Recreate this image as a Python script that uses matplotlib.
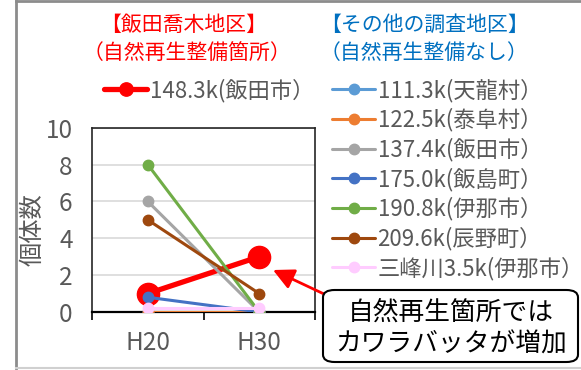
import matplotlib
matplotlib.use("Agg")
import matplotlib.pyplot as plt
from matplotlib.lines import Line2D
from matplotlib.patches import FancyBboxPatch

plt.rcParams['font.family'] = ['Noto Sans CJK JP', 'DejaVu Sans']

# Survey years
years = ["H20", "H30"]

# Restored site (Iida / Takagi district)
main_label = "148.3k(飯田市）"
main_values = [1, 3]
main_color = "#FF0000"

# Other survey sites (no restoration)
other_labels = [
    "111.3k(天龍村）",
    "122.5k(泰阜村）",
    "137.4k(飯田市）",
    "175.0k(飯島町）",
    "190.8k(伊那市）",
    "209.6k(辰野町）",
    "三峰川3.5k(伊那市）",
]
other_values = [
    [0, 0],
    [0, 0],
    [6, 0],
    [0.8, 0],
    [8, 0],
    [5, 1],
    [0.2, 0.2],
]
other_colors = ["#5B9BD5", "#ED7D31", "#A5A5A5", "#4472C4",
                "#70AD47", "#9E480E", "#FFCCFF"]

W, H = 581, 370
fig = plt.figure(figsize=(W / 100, H / 100), dpi=100)
fig.patch.set_facecolor("white")

def fx(px):
    return px / W

def fy(py):
    return 1 - py / H

ax = fig.add_axes([fx(92), fy(312), fx(315) - fx(92), fy(127.7) - fy(312)])

x = list(range(len(years)))
main_line, = ax.plot(x, main_values, color=main_color, lw=3.8, marker="o",
                     ms=16, label=main_label, zorder=3, solid_capstyle="round")
other_handles = []
for lab, vals, col in zip(other_labels, other_values, other_colors):
    h, = ax.plot(x, vals, color=col, lw=2.2, marker="o", ms=7.5,
                 label=lab, zorder=4, solid_capstyle="round")
    other_handles.append(h)

ax.set_xlim(-0.5, len(years) - 0.5)
ax.set_ylim(0, 10)
ax.set_yticks(range(0, 11, 2))
ax.set_xticks(x)
ax.set_xticklabels(years)
ax.set_xticks([-0.5, 0.5, 1.5], minor=True)
ax.tick_params(axis="x", which="major", length=0, pad=13, labelsize=17.5,
               labelcolor="#595959")
ax.tick_params(axis="x", which="minor", length=6, width=1.2, direction="out",
               color="black")
ax.tick_params(axis="y", length=0, pad=14, labelsize=17.5, labelcolor="#595959")
ax.grid(axis="y", color="#D9D9D9", lw=1.2)
ax.set_axisbelow(True)
for s in ["left", "top", "right"]:
    ax.spines[s].set_color("#262626")
    ax.spines[s].set_linewidth(1.2)
ax.spines["bottom"].set_color("black")
ax.spines["bottom"].set_linewidth(1.6)
ax.set_ylabel("個体数", fontsize=17.5, color="#595959", va="center")
ax.yaxis.set_label_coords((33 - 92) / 223, (312 - 230) / 184.3)

# Group headers
hdr = 15
fig.text(fx(184), fy(25), "【飯田喬木地区】", color="#FF0000", fontsize=hdr,
         ha="center", va="center")
fig.text(fx(187), fy(53), "（自然再生整備箇所）", color="#FF0000", fontsize=hdr,
         ha="center", va="center")
fig.text(fx(424), fy(25), "【その他の調査地区】", color="#0070C0", fontsize=hdr,
         ha="center", va="center")
fig.text(fx(424), fy(53), "（自然再生整備なし）", color="#0070C0", fontsize=hdr,
         ha="center", va="center")

# Legends
leg_kw = dict(frameon=False, fontsize=16, handlelength=1.95, handletextpad=0.1,
              borderpad=0, borderaxespad=0, labelcolor="#595959",
              labelspacing=0.27)
leg1 = fig.legend(handles=[main_line], loc="upper left", markerscale=0.6,
                  bbox_to_anchor=(fx(104), fy(78.4)), **leg_kw)
leg2 = fig.legend(handles=other_handles, loc="upper left",
                  bbox_to_anchor=(fx(332), fy(78.4)), **leg_kw)

# Callout
box = FancyBboxPatch((fx(323), fy(362)), fx(578) - fx(323), fy(290) - fy(362),
                     boxstyle="round,pad=0,rounding_size=0.02",
                     transform=fig.transFigure, facecolor="white",
                     edgecolor="black", lw=1.5, zorder=5)
fig.add_artist(box)
fig.text(fx(451), fy(313), "自然再生箇所では", fontsize=18.5, ha="center",
         va="center", color="black", zorder=6)
fig.text(fx(451), fy(345), "カワラバッタが増加", fontsize=18.5, ha="center",
         va="center", color="black", zorder=6)
ax.annotate("", xy=(fx(273), fy(270)), xycoords="figure fraction",
            xytext=(fx(324), fy(294)), textcoords="figure fraction",
            arrowprops=dict(arrowstyle="-|>,head_length=0.9,head_width=0.45",
                            color="#FF0000", lw=2, shrinkA=0, shrinkB=0,
                            mutation_scale=14),
            annotation_clip=False)

# Chart frame
fig.add_artist(Line2D([fx(16), 1], [fy(1), fy(1)], color="#8C8C8C", lw=2,
                      transform=fig.transFigure))
fig.add_artist(Line2D([fx(16), fx(16)], [fy(1), fy(368)], color="#8C8C8C",
                      lw=2, transform=fig.transFigure))
fig.add_artist(Line2D([fx(16), 1], [fy(368), fy(368)], color="#D0D0D0", lw=1.5,
                      transform=fig.transFigure))

fig.savefig("out.png", dpi=100)
